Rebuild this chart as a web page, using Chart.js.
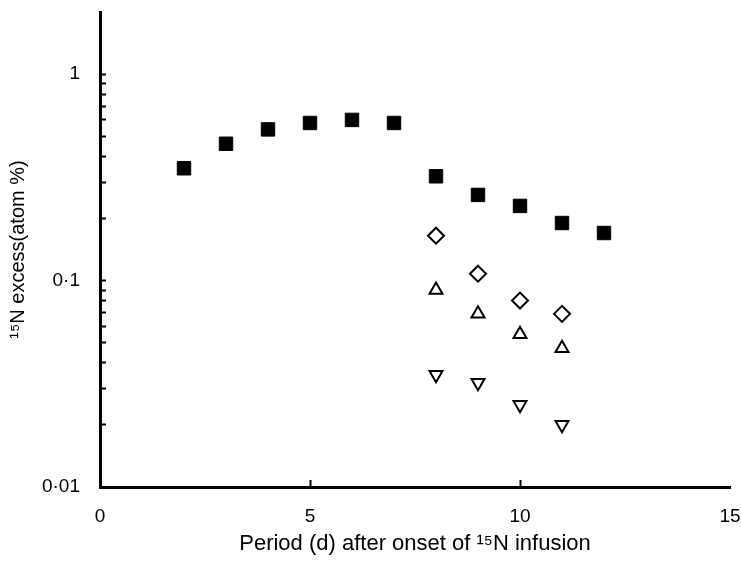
<!DOCTYPE html>
<html>
<head>
<meta charset="utf-8">
<script src="https://cdn.jsdelivr.net/npm/chart.js@4.4.1/dist/chart.umd.min.js"></script>
<style>
  html, body { margin: 0; padding: 0; background: #fff; }
  #wrap { width: 741px; height: 561px; }
</style>
</head>
<body>
<div id="wrap"><canvas id="chart"></canvas></div>
<script>
// Days after onset of infusion
const days = [2, 3, 4, 5, 6, 7, 8, 9, 10, 11, 12];
const daysLate = [8, 9, 10, 11];

// 15N excess (atom %)
const filledSquares = [0.35, 0.46, 0.54, 0.58, 0.60, 0.58, 0.32, 0.26, 0.23, 0.19, 0.17];
const openDiamonds = [0.165, 0.108, 0.080, 0.069];
const upTriangles = [0.090, 0.069, 0.055, 0.047];
const downTriangles = [0.035, 0.032, 0.025, 0.020];

const yTickValues = [0.01, 0.02, 0.03, 0.04, 0.05, 0.06, 0.07, 0.08, 0.09,
  0.1, 0.2, 0.3, 0.4, 0.5, 0.6, 0.7, 0.8, 0.9, 1];
const yTickLabels = { 0.01: '0·01', 0.1: '0·1', 1: '1' };
const xTickValues = [0, 5, 10, 15];

const FONT = "'Liberation Sans', Arial, sans-serif";

function toPoints(xs, ys) {
  return xs.map((x, i) => ({ x: x, y: ys[i] }));
}

new Chart(document.getElementById('chart'), {
  type: 'scatter',
  data: {
    datasets: [
      {
        data: toPoints(days, filledSquares),
        pointStyle: 'rect',
        pointRadius: 9.5,
        backgroundColor: '#000',
        borderColor: '#000',
        borderWidth: 1
      },
      {
        data: toPoints(daysLate, openDiamonds),
        pointStyle: 'rectRot',
        pointRadius: 8,
        backgroundColor: '#fff',
        borderColor: '#000',
        borderWidth: 2
      },
      {
        data: toPoints(daysLate, upTriangles),
        pointStyle: 'triangle',
        pointRadius: 7.5,
        backgroundColor: '#fff',
        borderColor: '#000',
        borderWidth: 2
      },
      {
        data: toPoints(daysLate, downTriangles),
        pointStyle: 'triangle',
        rotation: 180,
        pointRadius: 7.5,
        backgroundColor: '#fff',
        borderColor: '#000',
        borderWidth: 2
      }
    ]
  },
  options: {
    responsive: true,
    maintainAspectRatio: false,
    animation: false,
    layout: { padding: { top: 12, right: 11, left: 0, bottom: 0 } },
    plugins: {
      legend: { display: false },
      tooltip: { enabled: false }
    },
    scales: {
      x: {
        type: 'linear',
        min: 0,
        max: 15,
        afterBuildTicks: scale => { scale.ticks = xTickValues.map(v => ({ value: v })); },
        afterFit: scale => {
          scale.height = 74;
          scale.paddingLeft = 0;
          scale.paddingRight = 0;
        },
        border: { color: '#000', width: 3 },
        grid: {
          drawOnChartArea: false,
          drawTicks: true,
          tickLength: -7,
          tickWidth: 2,
          tickColor: ctx => (ctx.tick && (ctx.tick.value === 5 || ctx.tick.value === 10)) ? '#000' : 'rgba(0,0,0,0)'
        },
        ticks: {
          color: '#000',
          font: { family: FONT, size: 19 },
          padding: 25,
          maxRotation: 0,
          callback: v => String(v)
        },
        title: {
          display: true,
          text: 'Period (d) after onset of ¹⁵N infusion',
          color: '#000',
          font: { family: FONT, size: 22 },
          padding: { top: 0, bottom: 4 }
        }
      },
      y: {
        type: 'logarithmic',
        min: 0.01,
        max: 2,
        afterBuildTicks: scale => { scale.ticks = yTickValues.map(v => ({ value: v })); },
        afterFit: scale => {
          scale.width = 100;
          scale.paddingTop = 0;
          scale.paddingBottom = 0;
        },
        border: { color: '#000', width: 3 },
        grid: {
          drawOnChartArea: false,
          drawTicks: true,
          tickLength: -6,
          tickWidth: 2,
          tickColor: '#000'
        },
        ticks: {
          color: '#000',
          font: { family: FONT, size: 19 },
          padding: 26,
          autoSkip: false,
          callback: v => yTickLabels[v] || ''
        },
        title: {
          display: true,
          text: '¹⁵N excess(atom %)',
          color: '#000',
          font: { family: FONT, size: 20 },
          padding: { top: 6, bottom: 0 }
        }
      }
    }
  }
});
</script>
</body>
</html>
